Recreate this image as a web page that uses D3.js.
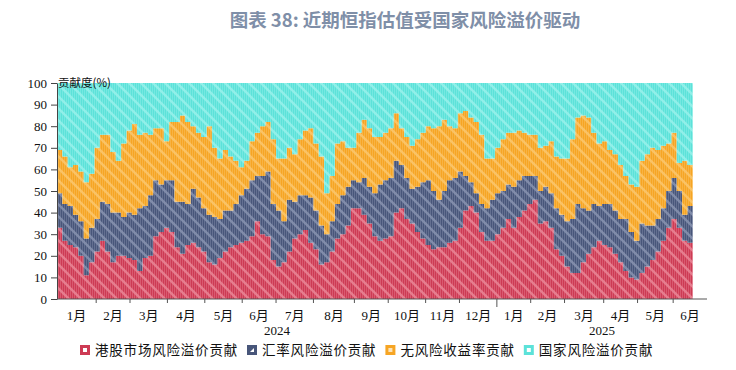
<!DOCTYPE html>
<html>
<head>
<meta charset="utf-8">
<script src="https://cdn.jsdelivr.net/npm/d3@7"></script>
<style>
  body { margin: 0; background: #fff; }
  svg { display: block; }
</style>
</head>
<body>
<div id="chart"></div>
<script>
// x axis categories: trading days per month
const monthLabels = ["1月","2月","3月","4月","5月","6月","7月","8月","9月","10月","11月","12月",
                     "1月","2月","3月","4月","5月","6月"];
const monthDays = [22,19,21,21,21,19,21,23,19,21,19,21, 19,19,22,19,20,19];
const yearLabels = ["2024","2025"];
const yearMonthCount = [12, 6];
const daysPerSample = 3;

// contribution of each factor (%), one value every 3 trading days
const hkEquity = [33,27,25,24,20,11,17,22,27,22,17,20,20,19,18,13,19,20,29,31,
                  33,31,24,21,25,26,24,22,17,16,19,22,24,25,26,27,29,36,30,29,
                  18,15,17,22,28,30,32,26,23,16,17,22,28,30,34,42,42,39,35,29,
                  27,28,29,40,42,37,35,31,28,25,23,24,24,26,27,33,41,43,40,31,
                  27,27,30,33,37,33,38,41,44,46,35,36,33,23,20,15,12,12,17,21,
                  24,27,25,24,21,17,13,10,9,12,15,18,22,27,33,37,33,27,26];
const fxRisk   = [16,17,18,15,16,17,16,15,18,22,23,20,18,21,21,29,24,28,26,22,
                  22,24,21,24,19,25,23,20,22,22,18,19,17,19,22,24,26,21,27,30,
                  26,26,19,24,17,18,16,21,18,18,13,14,16,18,18,13,12,17,17,20,
                  26,27,27,24,20,19,16,21,26,30,27,22,26,29,29,26,16,11,9,13,
                  15,19,19,17,16,19,17,16,13,11,15,16,16,19,19,21,25,32,25,20,
                  20,16,19,20,20,20,24,21,18,23,19,16,15,15,17,19,17,12,17];
const riskFree = [20,22,18,23,23,26,25,33,31,32,28,24,34,38,42,34,34,28,24,26,
                  18,27,37,40,38,29,30,33,41,32,28,28,25,20,13,13,18,20,23,23,
                  30,24,29,24,22,26,30,32,31,32,19,21,28,25,18,15,23,27,27,26,
                  22,22,23,22,17,19,20,22,23,25,29,34,33,25,23,27,30,30,33,32,
                  23,19,21,24,24,25,23,20,19,19,20,19,24,24,26,29,37,40,43,43,
                  33,29,29,25,26,25,20,22,25,29,33,36,32,29,22,21,13,25,19];
const countryRisk = [31,34,39,38,41,46,42,30,24,24,32,36,28,22,19,24,23,24,21,21,
                  27,18,18,15,18,20,23,25,20,30,35,31,34,36,39,36,27,23,20,18,
                  26,35,35,30,33,26,22,21,28,34,51,43,28,27,30,30,23,17,21,25,
                  25,23,21,14,21,25,29,26,23,20,21,20,17,20,21,14,13,16,18,24,
                  35,35,30,26,23,23,22,23,24,24,30,29,27,34,35,35,26,16,15,16,
                  23,28,27,31,33,38,43,47,48,36,33,30,31,29,28,23,37,36,38];

const seriesKeys = ["hk","fx","rf","cr"];
const seriesNames = ["港股市场风险溢价贡献","汇率风险溢价贡献","无风险收益率贡献","国家风险溢价贡献"];
const seriesColors = ["#cd3b54","#48567a","#f6a524","#5ce2d9"];
const stripeColors = ["#ea8696","#8893b0","#fbc76e","#98f1eb"];

const W = 736, H = 370;
const margin = {top: 83, right: 29, bottom: 71, left: 57};
const width = W - margin.left - margin.right,
      height = H - margin.top - margin.bottom;

const totalDays = d3.sum(monthDays);
const rows = hkEquity.map((v, i) => ({
  day: i * daysPerSample, hk: v, fx: fxRisk[i], rf: riskFree[i], cr: countryRisk[i]
}));
// closing point so the last step has a width
rows.push(Object.assign({}, rows[rows.length - 1], {day: hkEquity.length * daysPerSample}));

const svg = d3.select("#chart").append("svg")
  .attr("width", W).attr("height", H);

// hatch patterns: base colour, thin vertical bar lines, diagonal stripes
const defs = svg.append("defs");
seriesColors.forEach((c, i) => {
  const p = defs.append("pattern")
    .attr("id", "hatch" + i)
    .attr("patternUnits", "userSpaceOnUse")
    .attr("width", 12).attr("height", 12);
  p.append("rect").attr("width", 12).attr("height", 12).attr("fill", c);
  for (let k = 0; k < 6; k++) {
    p.append("rect").attr("x", k * 2 + 1.2).attr("y", 0)
      .attr("width", 0.7).attr("height", 12)
      .attr("fill", stripeColors[i]).attr("opacity", 0.6);
  }
  p.append("path")
    .attr("d", "M0,0L12,12M-3,9L3,15M9,-3L15,3")
    .attr("stroke", stripeColors[i]).attr("stroke-width", 2.4)
    .attr("opacity", 0.85);
});

const g = svg.append("g")
  .attr("transform", "translate(" + margin.left + "," + margin.top + ")");

const x = d3.scaleLinear().domain([0, totalDays]).range([0, width]);
const y = d3.scaleLinear().domain([0, 100]).range([height, 0]);

const stacked = d3.stack().keys(seriesKeys)(rows);
const area = d3.area()
  .curve(d3.curveStepAfter)
  .x(d => x(d.data.day))
  .y0(d => y(d[0]))
  .y1(d => y(d[1]));

g.selectAll("path.layer")
  .data(stacked)
  .enter()
  .append("path")
    .attr("class", "layer")
    .attr("d", area)
    .attr("fill", (d, i) => "url(#hatch" + i + ")");

// y axis
const yAxis = g.append("g")
  .call(d3.axisLeft(y).tickValues(d3.range(0, 101, 10)).tickSize(6).tickPadding(4).tickSizeOuter(0));
yAxis.select(".domain").attr("stroke", "#444");
yAxis.selectAll(".tick line").attr("stroke", "#444");
yAxis.selectAll("text")
  .attr("fill", "#111")
  .style("font-family", "'Liberation Serif', 'DejaVu Serif', serif")
  .style("font-size", "13px");

// x axis: month bands by trading days
const monthStart = [0];
monthDays.forEach(d => monthStart.push(monthStart[monthStart.length - 1] + d));
const xa = g.append("g").attr("transform", "translate(0," + height + ")");
xa.append("line")
  .attr("x1", x(0)).attr("x2", x(totalDays))
  .attr("stroke", "#555").attr("stroke-width", 1);
const yearStart = [0, yearMonthCount[0]];
xa.selectAll("line.tick")
  .data(monthStart.slice(1, monthStart.length - 1))
  .enter()
  .append("line")
    .attr("class", "tick")
    .attr("x1", d => x(d)).attr("x2", d => x(d))
    .attr("y1", 0)
    .attr("y2", (d, i) => (i + 1) === yearMonthCount[0] ? 8 : 4)
    .attr("stroke", "#555");
xa.selectAll("text.month")
  .data(monthLabels)
  .enter()
  .append("text")
    .attr("class", "month")
    .attr("x", (d, i) => x((monthStart[i] + monthStart[i + 1]) / 2))
    .attr("y", 21)
    .attr("text-anchor", "middle")
    .style("font-family", "'Liberation Serif', 'Noto Sans CJK SC', serif")
    .style("font-size", "13px")
    .attr("fill", "#111")
    .text(d => d);
xa.selectAll("text.year")
  .data(yearLabels)
  .enter()
  .append("text")
    .attr("class", "year")
    .attr("x", (d, i) => {
      const a = monthStart[yearStart[i]];
      const b = monthStart[yearStart[i] + yearMonthCount[i]];
      return x((a + b) / 2);
    })
    .attr("y", 36)
    .attr("text-anchor", "middle")
    .style("font-family", "'Liberation Serif', serif")
    .style("font-size", "13px")
    .attr("fill", "#111")
    .text(d => d);

// unit label
g.append("text")
  .attr("x", 1).attr("y", 4)
  .style("font-family", "'Noto Sans CJK SC', sans-serif")
  .style("font-size", "11.5px")
  .attr("fill", "#111")
  .text("贡献度(%)");

// title
svg.append("text")
  .attr("x", 405).attr("y", 27)
  .attr("text-anchor", "middle")
  .style("font-family", "'Noto Sans CJK SC', sans-serif")
  .style("font-size", "18.5px")
  .style("font-weight", "bold")
  .attr("fill", "#7f8fa8")
  .text("图表 38: 近期恒指估值受国家风险溢价驱动");

// legend
const legend = svg.append("g").attr("transform", "translate(80,350)");
let lx = 0;
seriesNames.forEach((name, i) => {
  legend.append("rect")
    .attr("x", lx).attr("y", -5)
    .attr("width", 10).attr("height", 10)
    .attr("fill", seriesColors[i]);
  if (i === 1) {
    legend.append("path")
      .attr("d", "M" + (lx + 7) + ",-2L" + (lx + 7) + ",2L" + (lx + 3) + ",2Z")
      .attr("fill", "#fff");
  } else {
    legend.append("rect")
      .attr("x", lx + 3).attr("y", -2)
      .attr("width", 4).attr("height", 4)
      .attr("fill", i === 2 ? "#fde3b8" : "#fff");
  }
  const t = legend.append("text")
    .attr("x", lx + 15).attr("y", 5)
    .style("font-family", "'Noto Sans CJK SC', sans-serif")
    .style("font-size", "13.5px")
    .style("letter-spacing", "0.8px")
    .attr("fill", "#111")
    .text(name);
  lx += 15 + t.node().getComputedTextLength() + 9;
});
</script>
</body>
</html>
